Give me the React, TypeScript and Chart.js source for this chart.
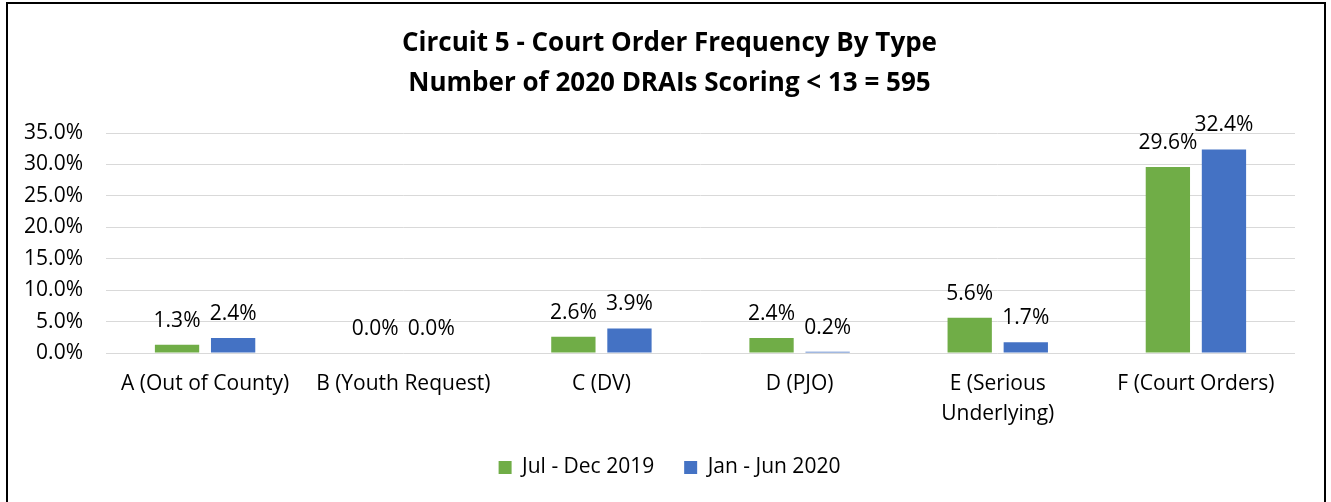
import React, { useEffect, useRef } from "react";
import { Chart, registerables } from "chart.js";

Chart.register(...registerables);

const categories: (string | string[])[] = [
  "A (Out of County)",
  "B (Youth Request)",
  "C (DV)",
  "D (PJO)",
  ["E (Serious", "Underlying)"],
  "F (Court Orders)",
];
const seriesNames = ["Jul - Dec 2019", "Jan - Jun 2020"];
const julDec2019 = [1.3, 0.0, 2.6, 2.4, 5.6, 29.6];
const janJun2020 = [2.4, 0.0, 3.9, 0.2, 1.7, 32.4];
const yTicks = [0, 5, 10, 15, 20, 25, 30, 35];
const titleLines = [
  "Circuit 5 - Court Order Frequency By Type",
  "Number of 2020 DRAIs Scoring < 13 = 595",
];

const FONT = "'Open Sans', Lato, sans-serif";

const dataLabelPlugin = {
  id: "dataLabels",
  afterDatasetsDraw(chart: any) {
    const ctx = chart.ctx;
    ctx.save();
    ctx.font = `21px ${FONT}`;
    ctx.fillStyle = "#000";
    ctx.textAlign = "center";
    ctx.textBaseline = "alphabetic";
    chart.data.datasets.forEach((ds: any, i: number) => {
      const meta = chart.getDatasetMeta(i);
      meta.data.forEach((el: any, j: number) => {
        const v = ds.data[j] as number;
        ctx.fillText(v.toFixed(1) + "%", el.x, el.y - 18);
      });
    });
    ctx.restore();
  },
};

const centerShiftPlugin = {
  id: "centerShift",
  afterLayout(chart: any) {
    const shift = 22;
    [chart.titleBlock, chart.legend].forEach((b: any) => {
      if (b) {
        b.left += shift;
        b.right += shift;
      }
    });
  },
};

export default function App() {
  const ref = useRef<HTMLCanvasElement>(null);
  useEffect(() => {
    if (!ref.current) return;
    const chart = new Chart(ref.current, {
      type: "bar",
      data: {
        labels: categories,
        datasets: [
          {
            label: seriesNames[0],
            data: julDec2019,
            backgroundColor: "#70AD47",
            categoryPercentage: 0.566,
            barPercentage: 0.79,
          },
          {
            label: seriesNames[1],
            data: janJun2020,
            backgroundColor: "#4472C4",
            categoryPercentage: 0.566,
            barPercentage: 0.79,
          },
        ],
      },
      options: {
        responsive: false,
        animation: false,
        layout: { padding: { left: 0, right: 36, top: 0, bottom: 14 } },
        plugins: {
          title: {
            display: true,
            text: titleLines,
            color: "#000",
            font: { family: FONT, size: 26, weight: "bold", lineHeight: 1.54 },
            padding: { top: 24, bottom: 29 },
          },
          legend: {
            position: "bottom",
            labels: {
              color: "#000",
              font: { family: FONT, size: 21 },
              boxWidth: 13,
              boxHeight: 13,
              padding: 30,
            },
          },
          tooltip: { enabled: false },
        },
        scales: {
          x: {
            afterFit(scale: any) {
              scale.height = 74;
            },
            grid: { display: false, drawTicks: false },
            border: { display: false },
            ticks: {
              color: "#000",
              font: { family: FONT, size: 21, lineHeight: 1.43 },
              padding: 16,
              maxRotation: 0,
              autoSkip: false,
            },
          },
          y: {
            min: 0,
            max: 35,
            afterFit(scale: any) {
              scale.width = 106;
            },
            afterBuildTicks(scale: any) {
              scale.ticks = yTicks.map((v) => ({ value: v }));
            },
            grid: { color: "#D9D9D9", lineWidth: 1, drawTicks: false },
            border: { display: false },
            ticks: {
              color: "#000",
              font: { family: FONT, size: 21 },
              padding: 23,
              callback: (v: any) => Number(v).toFixed(1) + "%",
            },
          },
        },
      },
      plugins: [dataLabelPlugin, centerShiftPlugin],
    });
    return () => chart.destroy();
  }, []);
  return (
    <div style={{ position: "fixed", left: 0, top: 0, width: 1331, height: 502, background: "#fff" }}>
      <canvas ref={ref} width={1331} height={502} style={{ display: "block" }} />
      <div
        style={{
          position: "absolute",
          left: 6,
          top: 2,
          width: 1320,
          height: 560,
          border: "2px solid #000",
          boxSizing: "border-box",
          pointerEvents: "none",
        }}
      />
    </div>
  );
}
